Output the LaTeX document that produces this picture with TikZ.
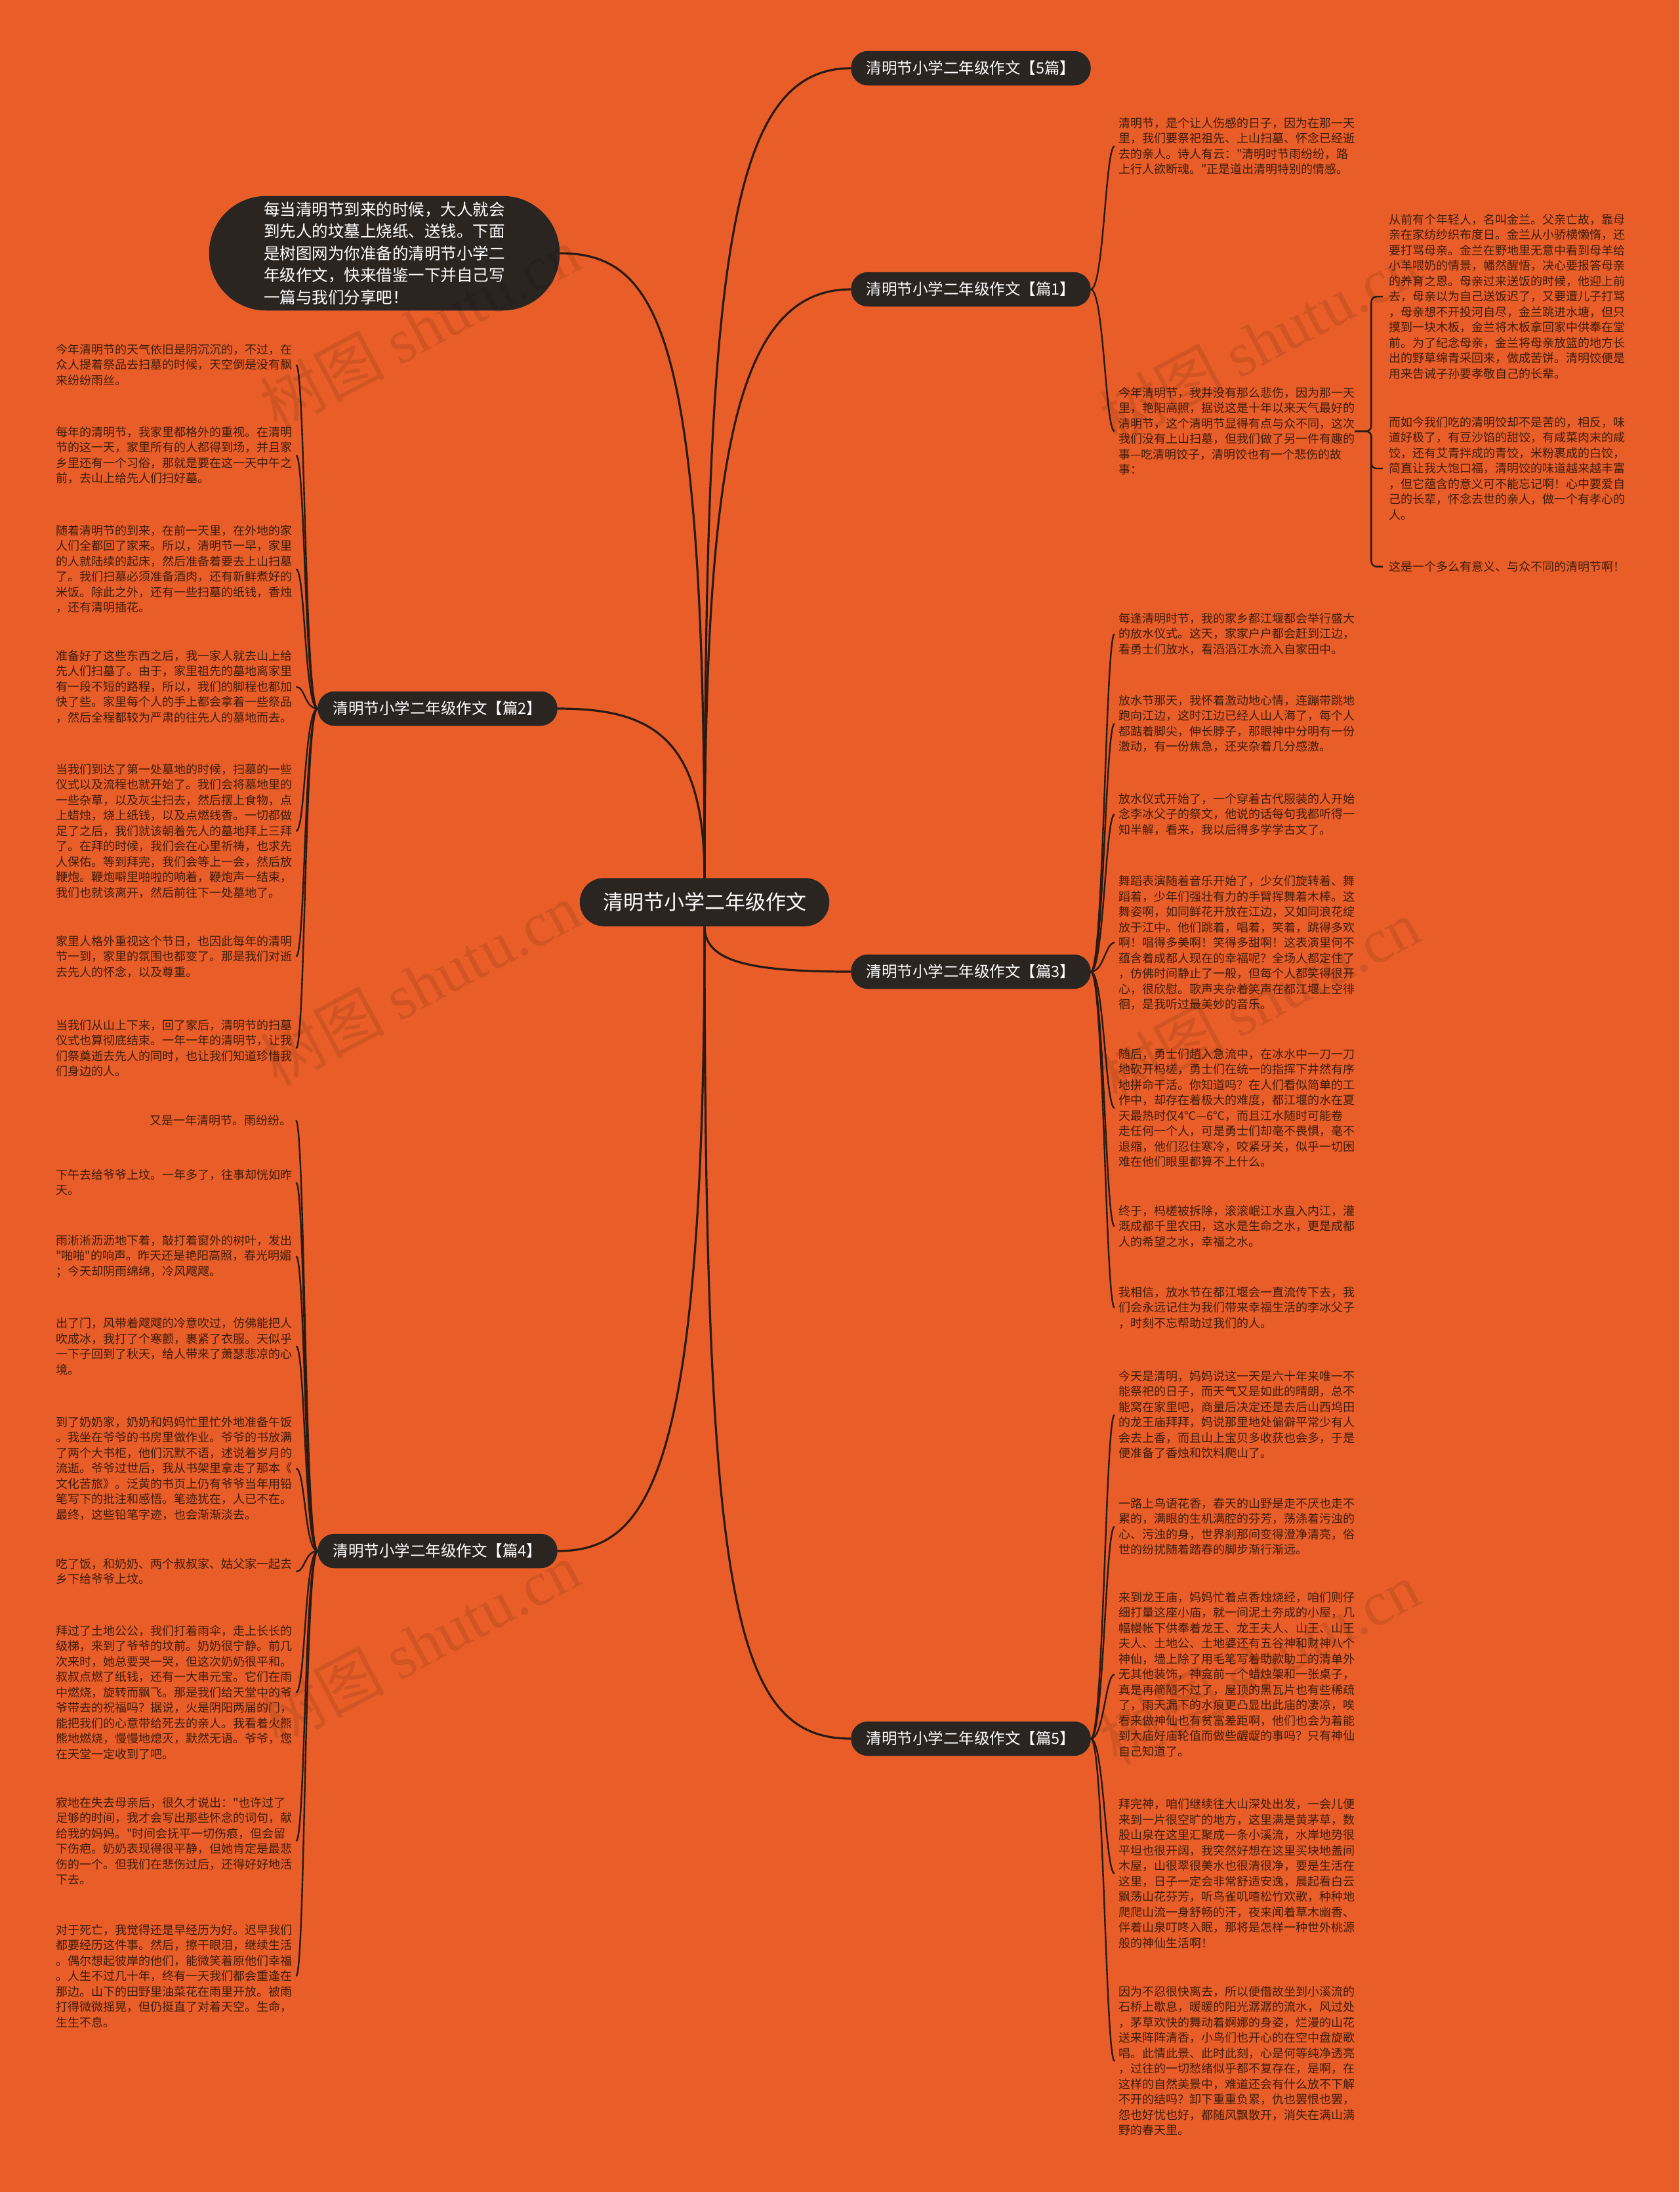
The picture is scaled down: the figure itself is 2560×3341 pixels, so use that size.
\documentclass[tikz,border=0pt]{standalone}
\usepackage{fontspec}
\setmainfont{Noto Sans CJK SC}[Ligatures=TeXOff]
\newfontfamily\wmlatin{Liberation Serif}
\definecolor{bgc}{RGB}{233,94,40}
\definecolor{nodec}{RGB}{43,37,34}
\definecolor{linec}{RGB}{40,26,20}
\definecolor{leafc}{RGB}{62,28,12}
\begin{document}
\begin{tikzpicture}[x=1pt,y=-1pt,
  leaf/.style={font=\fontsize{18}{23.5}\selectfont, text=leafc, align=left, inner sep=0pt},
  lleaf/.style={leaf, anchor=north west},
  rleaf/.style={leaf, anchor=north west},
  topic/.style={fill=nodec, draw=black!85, line width=1.5pt, text=white, rounded corners=25pt, minimum width=364pt, minimum height=51pt, inner sep=0pt, font=\fontsize{23.5}{26}\selectfont, align=center},
  rootbox/.style={fill=nodec, draw=black!85, line width=1.5pt, text=white, rounded corners=36pt, minimum width=379pt, minimum height=72pt, inner sep=0pt, font=\fontsize{31}{36}\selectfont},
  introbox/.style={fill=nodec, draw=black!85, line width=1.5pt, text=white, rounded corners=86pt, minimum width=533pt, minimum height=173pt, inner sep=0pt, font=\fontsize{24.5}{33.5}\selectfont, align=left},
  trunk/.style={draw=linec, line width=3.2pt},
  twig/.style={draw=linec, line width=2.4pt, out=0, in=180, out max distance=20pt, in max distance=20pt, shorten >=6pt},
  ltwig/.style={draw=linec, line width=2.4pt, out=180, in=0, out max distance=20pt, in max distance=20pt, shorten >=6pt},
  elbow/.style={draw=linec, line width=2.4pt, rounded corners=8pt, shorten >=9pt},
  wm/.style={font=\fontsize{95}{95}\selectfont, text=black, opacity=0.1, rotate=28}
]
\fill[bgc] (0,0) rectangle (2560,3341);
\useasboundingbox (0,0) rectangle (2560,3341);

% ---------- main nodes ----------
\node[rootbox] (root) at (1074,1375) {清明节小学二年级作文};
\node[topic] (b0) at (1480,104) {清明节小学二年级作文【5篇】};
\node[topic] (b1) at (1480,441) {清明节小学二年级作文【篇1】};
\node[topic] (b3) at (1480,1481) {清明节小学二年级作文【篇3】};
\node[topic] (b5) at (1480,2650) {清明节小学二年级作文【篇5】};
\node[topic] (b2) at (667,1080) {清明节小学二年级作文【篇2】};
\node[topic] (b4) at (667,2364) {清明节小学二年级作文【篇4】};
\node[introbox] (intro) at (586,386) {每当清明节到来的时候，大人就会\\到先人的坟墓上烧纸、送钱。下面\\是树图网为你准备的清明节小学二\\年级作文，快来借鉴一下并自己写\\一篇与我们分享吧！};

% ---------- 篇1 ----------
\node[rleaf] (r1a) at (1705,179) {清明节，是个让人伤感的日子，因为在那一天\\里，我们要祭祀祖先、上山扫墓、怀念已经逝\\去的亲人。诗人有云："清明时节雨纷纷，路\\上行人欲断魂。"正是道出清明特别的情感。};
\node[rleaf] (r1b) at (1705,590) {今年清明节，我并没有那么悲伤，因为那一天\\里，艳阳高照，据说这是十年以来天气最好的\\清明节，这个清明节显得有点与众不同，这次\\我们没有上山扫墓，但我们做了另一件有趣的\\事—吃清明饺子，清明饺也有一个悲伤的故\\事：};
\node[rleaf] (f1) at (2117,326) {从前有个年轻人，名叫金兰。父亲亡故，靠母\\亲在家纺纱织布度日。金兰从小骄横懒惰，还\\要打骂母亲。金兰在野地里无意中看到母羊给\\小羊喂奶的情景，幡然醒悟，决心要报答母亲\\的养育之恩。母亲过来送饭的时候，他迎上前\\去，母亲以为自己送饭迟了，又要遭儿子打骂\\，母亲想不开投河自尽，金兰跳进水塘，但只\\摸到一块木板，金兰将木板拿回家中供奉在堂\\前。为了纪念母亲，金兰将母亲放篮的地方长\\出的野草绵青采回来，做成苦饼。清明饺便是\\用来告诫子孙要孝敬自己的长辈。};
\node[rleaf] (f2) at (2117,635) {而如今我们吃的清明饺却不是苦的，相反，味\\道好极了，有豆沙馅的甜饺，有咸菜肉末的咸\\饺，还有艾青拌成的青饺，米粉裹成的白饺，\\简直让我大饱口福，清明饺的味道越来越丰富\\，但它蕴含的意义可不能忘记啊！心中要爱自\\己的长辈，怀念去世的亲人，做一个有孝心的\\人。};
\node[rleaf] (f3) at (2117,855) {这是一个多么有意义、与众不同的清明节啊！};

% ---------- 篇3 ----------
\node[rleaf] (r3a) at (1705,934) {每逢清明时节，我的家乡都江堰都会举行盛大\\的放水仪式。这天，家家户户都会赶到江边，\\看勇士们放水，看滔滔江水流入自家田中。};
\node[rleaf] (r3b) at (1705,1059) {放水节那天，我怀着激动地心情，连蹦带跳地\\跑向江边，这时江边已经人山人海了，每个人\\都踮着脚尖，伸长脖子，那眼神中分明有一份\\激动，有一份焦急，还夹杂着几分感激。};
\node[rleaf] (r3c) at (1705,1209) {放水仪式开始了，一个穿着古代服装的人开始\\念李冰父子的祭文，他说的话每句我都听得一\\知半解，看来，我以后得多学学古文了。};
\node[rleaf] (r3d) at (1705,1334) {舞蹈表演随着音乐开始了，少女们旋转着、舞\\蹈着，少年们强壮有力的手臂挥舞着木棒。这\\舞姿啊，如同鲜花开放在江边，又如同浪花绽\\放于江中。他们跳着，唱着，笑着，跳得多欢\\啊！唱得多美啊！笑得多甜啊！这表演里何不\\蕴含着成都人现在的幸福呢？全场人都定住了\\，仿佛时间静止了一般，但每个人都笑得很开\\心，很欣慰。歌声夹杂着笑声在都江堰上空徘\\徊，是我听过最美妙的音乐。};
\node[rleaf] (r3e) at (1705,1598) {随后，勇士们趟入急流中，在冰水中一刀一刀\\地砍开杩槎，勇士们在统一的指挥下井然有序\\地拼命干活。你知道吗？在人们看似简单的工\\作中，却存在着极大的难度，都江堰的水在夏\\天最热时仅4℃—6℃，而且江水随时可能卷\\走任何一个人，可是勇士们却毫不畏惧，毫不\\退缩，他们忍住寒冷，咬紧牙关，似乎一切困\\难在他们眼里都算不上什么。};
\node[rleaf] (r3f) at (1705,1837) {终于，杩槎被拆除，滚滚岷江水直入内江，灌\\溉成都千里农田，这水是生命之水，更是成都\\人的希望之水，幸福之水。};
\node[rleaf] (r3g) at (1705,1961) {我相信，放水节在都江堰会一直流传下去，我\\们会永远记住为我们带来幸福生活的李冰父子\\，时刻不忘帮助过我们的人。};

% ---------- 篇5 ----------
\node[rleaf] (r5a) at (1705,2089) {今天是清明，妈妈说这一天是六十年来唯一不\\能祭祀的日子，而天气又是如此的晴朗，总不\\能窝在家里吧，商量后决定还是去后山西坞田\\的龙王庙拜拜，妈说那里地处偏僻平常少有人\\会去上香，而且山上宝贝多收获也会多，于是\\便准备了香烛和饮料爬山了。};
\node[rleaf] (r5b) at (1705,2283) {一路上鸟语花香，春天的山野是走不厌也走不\\累的，满眼的生机满腔的芬芳，荡涤着污浊的\\心、污浊的身，世界刹那间变得澄净清亮，俗\\世的纷扰随着踏春的脚步渐行渐远。};
\node[rleaf] (r5c) at (1705,2426) {来到龙王庙，妈妈忙着点香烛烧经，咱们则仔\\细打量这座小庙，就一间泥土夯成的小屋，几\\幅幔帐下供奉着龙王、龙王夫人、山王、山王\\夫人、土地公、土地婆还有五谷神和财神八个\\神仙，墙上除了用毛笔写着助款助工的清单外\\无其他装饰，神龛前一个蜡烛架和一张桌子，\\真是再简陋不过了，屋顶的黑瓦片也有些稀疏\\了，雨天漏下的水痕更凸显出此庙的凄凉，唉\\看来做神仙也有贫富差距啊，他们也会为着能\\到大庙好庙轮值而做些龌龊的事吗？只有神仙\\自己知道了。};
\node[rleaf] (r5d) at (1705,2741) {拜完神，咱们继续往大山深处出发，一会儿便\\来到一片很空旷的地方，这里满是黄茅草，数\\股山泉在这里汇聚成一条小溪流，水岸地势很\\平坦也很开阔，我突然好想在这里买块地盖间\\木屋，山很翠很美水也很清很净，要是生活在\\这里，日子一定会非常舒适安逸，晨起看白云\\飘荡山花芬芳，听鸟雀叽喳松竹欢歌，种种地\\爬爬山流一身舒畅的汗，夜来闻着草木幽香、\\伴着山泉叮咚入眠，那将是怎样一种世外桃源\\般的神仙生活啊！};
\node[rleaf] (r5e) at (1705,3027) {因为不忍很快离去，所以便借故坐到小溪流的\\石桥上歇息，暖暖的阳光潺潺的流水，风过处\\，茅草欢快的舞动着婀娜的身姿，烂漫的山花\\送来阵阵清香，小鸟们也开心的在空中盘旋歌\\唱。此情此景、此时此刻，心是何等纯净透亮\\，过往的一切愁绪似乎都不复存在，是啊，在\\这样的自然美景中，难道还会有什么放不下解\\不开的结吗？卸下重重负累，仇也罢恨也罢，\\怨也好忧也好，都随风飘散开，消失在满山满\\野的春天里。};

% ---------- 篇2 ----------
\node[lleaf] (l2a) at (85,524) {今年清明节的天气依旧是阴沉沉的，不过，在\\众人提着祭品去扫墓的时候，天空倒是没有飘\\来纷纷雨丝。};
\node[lleaf] (l2b) at (85,650) {每年的清明节，我家里都格外的重视。在清明\\节的这一天，家里所有的人都得到场，并且家\\乡里还有一个习俗，那就是要在这一天中午之\\前，去山上给先人们扫好墓。};
\node[lleaf] (l2c) at (85,800) {随着清明节的到来，在前一天里，在外地的家\\人们全都回了家来。所以，清明节一早，家里\\的人就陆续的起床，然后准备着要去上山扫墓\\了。我们扫墓必须准备酒肉，还有新鲜煮好的\\米饭。除此之外，还有一些扫墓的纸钱，香烛\\，还有清明插花。};
\node[lleaf] (l2d) at (85,991) {准备好了这些东西之后，我一家人就去山上给\\先人们扫墓了。由于，家里祖先的墓地离家里\\有一段不短的路程，所以，我们的脚程也都加\\快了些。家里每个人的手上都会拿着一些祭品\\，然后全程都较为严肃的往先人的墓地而去。};
\node[lleaf] (l2e) at (85,1164) {当我们到达了第一处墓地的时候，扫墓的一些\\仪式以及流程也就开始了。我们会将墓地里的\\一些杂草，以及灰尘扫去，然后摆上食物，点\\上蜡烛，烧上纸钱，以及点燃线香。一切都做\\足了之后，我们就该朝着先人的墓地拜上三拜\\了。在拜的时候，我们会在心里祈祷，也求先\\人保佑。等到拜完，我们会等上一会，然后放\\鞭炮。鞭炮噼里啪啦的响着，鞭炮声一结束，\\我们也就该离开，然后前往下一处墓地了。};
\node[lleaf] (l2f) at (85,1426) {家里人格外重视这个节日，也因此每年的清明\\节一到，家里的氛围也都变了。那是我们对逝\\去先人的怀念，以及尊重。};
\node[lleaf] (l2g) at (85,1554) {当我们从山上下来，回了家后，清明节的扫墓\\仪式也算彻底结束。一年一年的清明节，让我\\们祭奠逝去先人的同时，也让我们知道珍惜我\\们身边的人。};

% ---------- 篇4 ----------
\node[leaf, anchor=north east] (l4a) at (445,1699) {又是一年清明节。雨纷纷。};
\node[lleaf] (l4b) at (85,1782) {下午去给爷爷上坟。一年多了，往事却恍如昨\\天。};
\node[lleaf] (l4c) at (85,1882) {雨淅淅沥沥地下着，敲打着窗外的树叶，发出\\"啪啪"的响声。昨天还是艳阳高照，春光明媚\\；今天却阴雨绵绵，冷风飕飕。};
\node[lleaf] (l4d) at (85,2008) {出了门，风带着飕飕的冷意吹过，仿佛能把人\\吹成冰，我打了个寒颤，裹紧了衣服。天似乎\\一下子回到了秋天，给人带来了萧瑟悲凉的心\\境。};
\node[lleaf] (l4e) at (85,2159) {到了奶奶家，奶奶和妈妈忙里忙外地准备午饭\\。我坐在爷爷的书房里做作业。爷爷的书放满\\了两个大书柜，他们沉默不语，述说着岁月的\\流逝。爷爷过世后，我从书架里拿走了那本《\\文化苦旅》。泛黄的书页上仍有爷爷当年用铅\\笔写下的批注和感悟。笔迹犹在，人已不在。\\最终，这些铅笔字迹，也会渐渐淡去。};
\node[lleaf] (l4f) at (85,2375) {吃了饭，和奶奶、两个叔叔家、姑父家一起去\\乡下给爷爷上坟。};
\node[lleaf] (l4g) at (85,2477) {拜过了土地公公，我们打着雨伞，走上长长的\\级梯，来到了爷爷的坟前。奶奶很宁静。前几\\次来时，她总要哭一哭，但这次奶奶很平和。\\叔叔点燃了纸钱，还有一大串元宝。它们在雨\\中燃烧，旋转而飘飞。那是我们给天堂中的爷\\爷带去的祝福吗？据说，火是阴阳两届的门，\\能把我们的心意带给死去的亲人。我看着火熊\\熊地燃烧，慢慢地熄灭，默然无语。爷爷，您\\在天堂一定收到了吧。};
\node[lleaf] (l4h) at (85,2739) {寂地在失去母亲后，很久才说出："也许过了\\足够的时间，我才会写出那些怀念的词句，献\\给我的妈妈。"时间会抚平一切伤痕，但会留\\下伤疤。奶奶表现得很平静，但她肯定是最悲\\伤的一个。但我们在悲伤过后，还得好好地活\\下去。};
\node[lleaf] (l4i) at (85,2933) {对于死亡，我觉得还是早经历为好。迟早我们\\都要经历这件事。然后，擦干眼泪，继续生活\\。偶尔想起彼岸的他们，能微笑着原他们幸福\\。人生不过几十年，终有一天我们都会重逢在\\那边。山下的田野里油菜花在雨里开放。被雨\\打得微微摇晃，但仍挺直了对着天空。生命，\\生生不息。};

% ---------- main connectors ----------
\draw[trunk] (root.north) .. controls (1074,400) and (1110,104) .. (b0.west);
\draw[trunk] (root.north) .. controls (1074,700) and (1120,441) .. (b1.west);
\draw[trunk] (root.south) .. controls (1074,1465) and (1140,1481) .. (b3.west);
\draw[trunk] (root.south) .. controls (1074,2450) and (1120,2650) .. (b5.west);
\draw[trunk] (root.north) .. controls (1074,1120) and (990,1080) .. (b2.east);
\draw[trunk] (root.north) .. controls (1074,520) and (1010,386) .. (intro.east);
\draw[trunk] (root.south) .. controls (1074,2250) and (990,2364) .. (b4.east);

% ---------- leaf connectors ----------
\foreach \t in {r1a,r1b} \draw[twig] (b1.east) to (\t.west);
\foreach \t in {r3a,r3b,r3c,r3d,r3e,r3f,r3g} \draw[twig] (b3.east) to (\t.west);
\foreach \t in {r5a,r5b,r5c,r5d,r5e} \draw[twig] (b5.east) to (\t.west);
\foreach \t in {l2a,l2b,l2c,l2d,l2e,l2f,l2g} \draw[ltwig] (b2.west) to (\t.east);
\foreach \t in {l4a,l4b,l4c,l4d,l4e,l4f,l4g,l4h,l4i} \draw[ltwig] (b4.west) to (\t.east);
\foreach \t in {f1,f2,f3} \draw[elbow] (r1b.east) -- ++(25,0) |- (\t.west);

% ---------- watermarks ----------
\foreach \p [count=\i] in {(640,500),(1920,520),(640,1500),(1920,1525),(640,2505),(1920,2535)}
  \node[wm] (wm\i) at \p {树图 {\wmlatin shutu.cn}};
\end{tikzpicture}
\end{document}
